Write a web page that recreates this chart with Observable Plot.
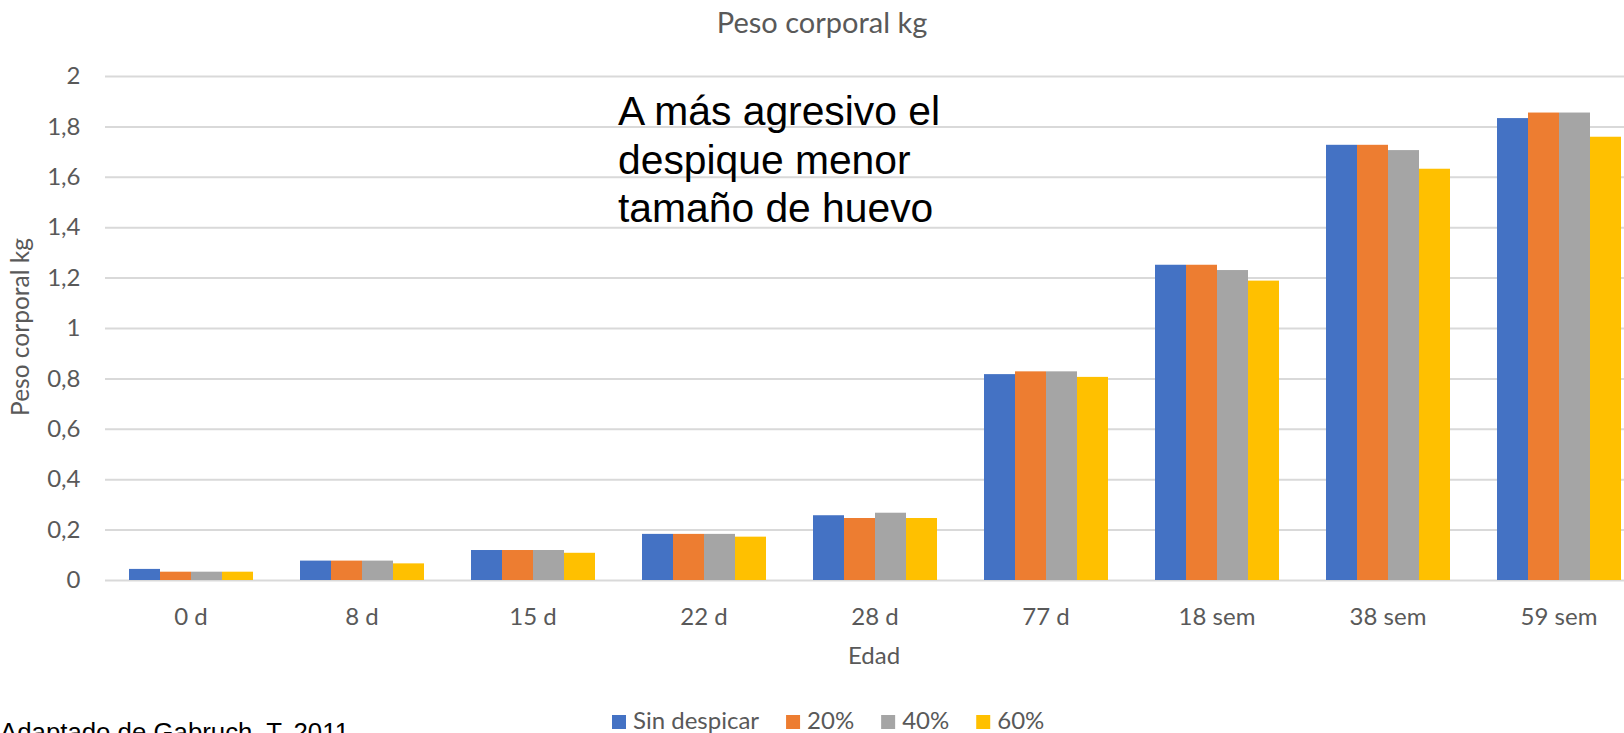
<!DOCTYPE html>
<html><head><meta charset="utf-8">
<script src="https://cdn.jsdelivr.net/npm/d3@7"></script>
<script src="https://cdn.jsdelivr.net/npm/@observablehq/plot@0.6"></script>
<style>
body{margin:0;background:#fff;overflow:hidden}
#wrap{position:relative;width:1624px;height:733px;overflow:hidden;background:#fff}
#chart{position:absolute;left:0;top:0}
#overlay{position:absolute;left:0;top:0;pointer-events:none}
</style></head><body>
<div id="wrap"><div id="chart"></div></div>
<script>
// ---- data ----
const categories = ["0 d","8 d","15 d","22 d","28 d","77 d","18 sem","38 sem","59 sem"];
const series = ["Sin despicar","20%","40%","60%"];
const sinDespicar = [0.044,0.077,0.119,0.183,0.257,0.817,1.251,1.727,1.833];
const p20 = [0.033,0.077,0.119,0.183,0.246,0.828,1.251,1.727,1.855];
const p40 = [0.033,0.077,0.119,0.183,0.267,0.828,1.230,1.706,1.855];
const p60 = [0.033,0.066,0.108,0.172,0.246,0.806,1.188,1.632,1.759];
const yTicks = [0,0.2,0.4,0.6,0.8,1,1.2,1.4,1.6,1.8,2];
const colors = ["#4472C4","#ED7D31","#A5A5A5","#FFC000"];
const titleText = "Peso corporal kg";
const yLabel = "Peso corporal kg";
const xLabel = "Edad";
const noteLines = ["A más agresivo el","despique menor","tamaño de huevo"];
const captionText = "Adaptado de Gabruch, T. 2011";

const valuesBySeries = [sinDespicar, p20, p40, p60];
const data = categories.flatMap((c, i) => series.map((s, j) => ({cat: c, serie: s, value: valuesBySeries[j][i]})));

const chart = Plot.plot({
  width: 1624, height: 680,
  marginLeft: 103, marginRight: -22, marginTop: 76, marginBottom: 100,
  style: {fontFamily: "Lato, sans-serif", fontSize: "24px", color: "#595959", background: "transparent", overflow: "hidden"},
  fx: {domain: categories, paddingInner: 0.267, paddingOuter: 0.1337, label: null, tickSize: 0, tickPadding: 27},
  x: {domain: series, padding: 0, axis: null},
  y: {domain: [0, 2], ticks: yTicks, tickFormat: d => String(d).replace(".", ","), tickSize: 0, tickPadding: 48, label: null},
  color: {domain: series, range: colors},
  marks: [
    Plot.ruleY(yTicks, {stroke: "#d9d9d9", strokeWidth: 2, insetLeft: -23, insetRight: -23}),
    Plot.barY(data, {fx: "cat", x: "serie", y: "value", fill: "serie"})
  ]
});
document.getElementById("chart").appendChild(chart);

// ---- overlay texts & legend ----
const svg = d3.select("#wrap").append("svg").attr("id", "overlay").attr("width", 1624).attr("height", 733);
svg.append("text").attr("x", 822).attr("y", 33).attr("text-anchor", "middle")
  .attr("font-family", "Lato, sans-serif").attr("font-size", 29).attr("fill", "#595959").text(titleText);
svg.append("text").attr("transform", "translate(29,327) rotate(-90)").attr("text-anchor", "middle")
  .attr("font-family", "Lato, sans-serif").attr("font-size", 24.5).attr("fill", "#595959").text(yLabel);
svg.append("text").attr("x", 874).attr("y", 664).attr("text-anchor", "middle")
  .attr("font-family", "Lato, sans-serif").attr("font-size", 24).attr("fill", "#595959").text(xLabel);
const note = svg.append("text").attr("font-family", "'Liberation Sans', Arial, sans-serif").attr("font-size", 40.8).attr("fill", "#000");
noteLines.forEach((t, i) => note.append("tspan").attr("x", 618).attr("y", 125 + i * 48.5).text(t));
svg.append("text").attr("x", 0).attr("y", 741)
  .attr("font-family", "'Liberation Sans', Arial, sans-serif").attr("font-size", 25.8).attr("fill", "#000").text(captionText);

const leg = svg.append("g");
let lx = 612;
series.forEach((s, i) => {
  leg.append("rect").attr("x", lx).attr("y", 715).attr("width", 14).attr("height", 14).attr("fill", colors[i]);
  const t = leg.append("text").attr("x", lx + 21).attr("y", 729)
    .attr("font-family", "Lato, sans-serif").attr("font-size", 24).attr("fill", "#595959").text(s);
  lx = lx + 21 + t.node().getComputedTextLength() + 27;
});
</script>
</body></html>
